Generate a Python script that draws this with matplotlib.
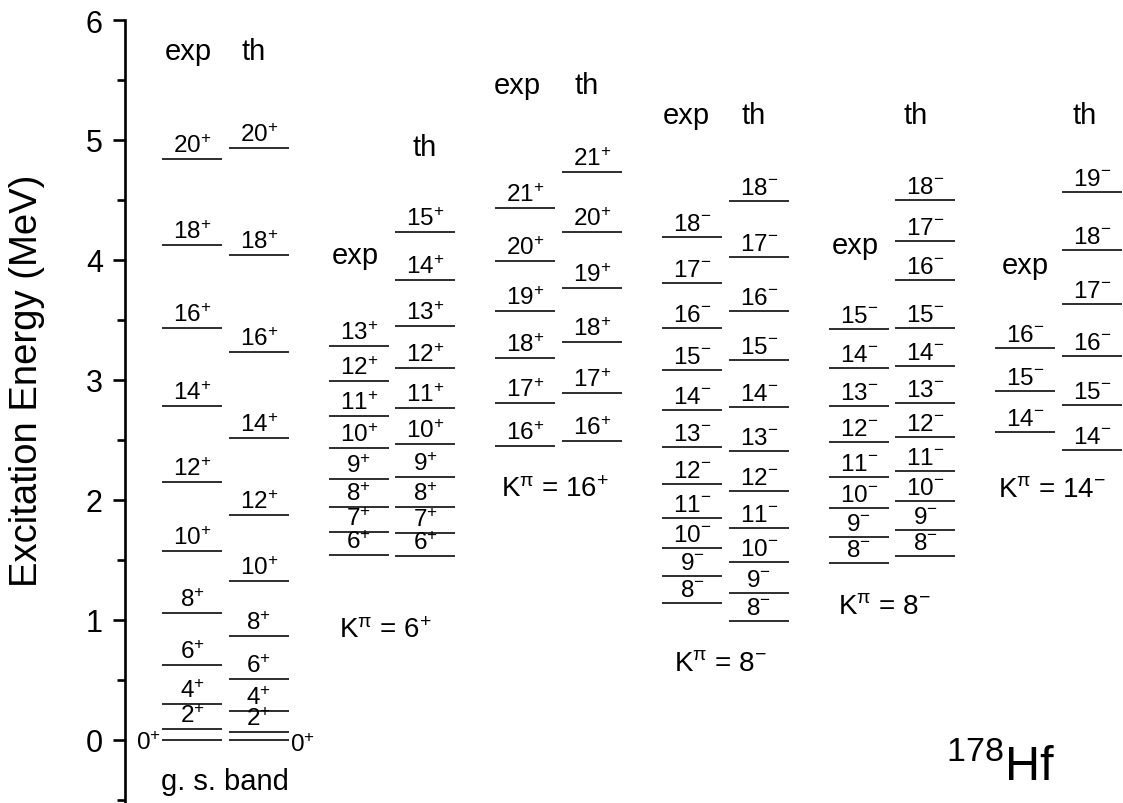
import matplotlib
matplotlib.use('Agg')
import matplotlib.pyplot as plt
from matplotlib.ticker import MultipleLocator

plt.rcParams['font.family'] = ['Liberation Sans', 'DejaVu Sans']
plt.rcParams['mathtext.fontset'] = 'custom'
plt.rcParams['mathtext.rm'] = 'Liberation Sans'
plt.rcParams['mathtext.it'] = 'Liberation Sans:italic'
plt.rcParams['mathtext.bf'] = 'Liberation Sans:bold'
plt.rcParams['mathtext.default'] = 'regular'

# ---------------- data (MeV) ----------------
gs_spins = [0, 2, 4, 6, 8, 10, 12, 14, 16, 18, 20]
gs_exp = [0.0, 0.093, 0.300, 0.628, 1.056, 1.572, 2.147, 2.780, 3.430, 4.125, 4.840]
gs_th = [0.0, 0.070, 0.240, 0.506, 0.870, 1.325, 1.875, 2.514, 3.236, 4.044, 4.930]

k6_exp_spins = [6, 7, 8, 9, 10, 11, 12, 13]
k6_exp = [1.544, 1.731, 1.944, 2.175, 2.436, 2.697, 2.989, 3.286]
k6_th_spins = [6, 7, 8, 9, 10, 11, 12, 13, 14, 15]
k6_th = [1.536, 1.725, 1.944, 2.194, 2.467, 2.770, 3.100, 3.453, 3.830, 4.233]

k16_spins = [16, 17, 18, 19, 20, 21]
k16_exp = [2.447, 2.806, 3.180, 3.578, 3.994, 4.433]
k16_th = [2.494, 2.890, 3.319, 3.764, 4.236, 4.736]

k8a_spins = [8, 9, 10, 11, 12, 13, 14, 15, 16, 17, 18]
k8a_exp = [1.142, 1.364, 1.600, 1.853, 2.133, 2.444, 2.750, 3.083, 3.433, 3.806, 4.189]
k8a_th = [0.994, 1.225, 1.481, 1.767, 2.078, 2.411, 2.778, 3.167, 3.578, 4.022, 4.489]

k8b_exp_spins = [8, 9, 10, 11, 12, 13, 14, 15]
k8b_exp = [1.472, 1.694, 1.933, 2.194, 2.481, 2.781, 3.097, 3.425]
k8b_th_spins = [8, 9, 10, 11, 12, 13, 14, 15, 16, 17, 18]
k8b_th = [1.533, 1.750, 1.989, 2.242, 2.522, 2.808, 3.119, 3.433, 3.836, 4.161, 4.500]

k14_exp_spins = [14, 15, 16]
k14_exp = [2.569, 2.906, 3.264]
k14_th_spins = [14, 15, 16, 17, 18, 19]
k14_th = [2.417, 2.794, 3.197, 3.631, 4.086, 4.569]

band_parity = ['+', '+', '+', '-', '-', '-']
band_names = ['g. s. band', r'K$^{\pi}$ = 6$^{+}$', r'K$^{\pi}$ = 16$^{+}$',
              r'K$^{\pi}$ = 8$^{-}$', r'K$^{\pi}$ = 8$^{-}$', r'K$^{\pi}$ = 14$^{-}$']

bands = [
    (gs_spins, gs_exp, gs_spins, gs_th),
    (k6_exp_spins, k6_exp, k6_th_spins, k6_th),
    (k16_spins, k16_exp, k16_spins, k16_th),
    (k8a_spins, k8a_exp, k8a_spins, k8a_th),
    (k8b_exp_spins, k8b_exp, k8b_th_spins, k8b_th),
    (k14_exp_spins, k14_exp, k14_th_spins, k14_th),
]

# ---------------- layout ----------------
EXP_X0, EXP_X1 = 0.0, 0.36
TH_X0, TH_X1 = 0.40, 0.76
LW = 1.15
LFS = 17.5

# header text positions (x in band units, y in MeV)
exp_head = [(0.156, 5.74), (1.158, 4.04), (2.13, 5.46), (3.144, 5.21), (4.158, 4.125), (5.178, 3.96)]
th_head = [(0.552, 5.74), (1.578, 4.94), (2.55, 5.46), (3.552, 5.21), (4.524, 5.21), (5.538, 5.21)]
name_pos = [(0.378, -0.34), (1.338, 0.92), (2.358, 2.09), (3.348, 0.64), (4.332, 1.12), (5.34, 2.09)]

fig = plt.figure(figsize=(11.23, 8.04), dpi=100)
ax = fig.add_axes([125 / 1123, 0.0, 1 - 125 / 1123, 1 - 21 / 804])
ax.set_xlim(-0.222, 5.766)
ax.set_ylim(-0.525, 6.0)

for s in ['top', 'right', 'bottom']:
    ax.spines[s].set_visible(False)
ax.spines['left'].set_linewidth(1.9)
ax.set_xticks([])
ax.yaxis.set_major_locator(MultipleLocator(1))
ax.yaxis.set_minor_locator(MultipleLocator(0.5))
ax.tick_params(axis='y', which='major', direction='out', length=9, width=1.9,
               labelsize=22, pad=7)
ax.tick_params(axis='y', which='minor', direction='out', length=6, width=1.9)
ax.set_yticks([0, 1, 2, 3, 4, 5, 6])
ax.set_ylabel('Excitation Energy (MeV)', fontsize=27.5)
ax.yaxis.set_label_coords(-0.08, 0.54)


def level_label(x, y, spin, par, **kw):
    ax.annotate(f'${spin}^{{{par}}}$', (x, y), xytext=kw.pop('off', (0, 1.5)),
                textcoords='offset points', fontsize=LFS,
                ha=kw.pop('ha', 'center'), va=kw.pop('va', 'bottom'))


for i, (es, ev, ts, tv) in enumerate(bands):
    par = band_parity[i]
    ax.hlines(ev, i + EXP_X0, i + EXP_X1, colors='black', linewidth=LW)
    ax.hlines(tv, i + TH_X0, i + TH_X1, colors='black', linewidth=LW)
    for s, e in zip(es, ev):
        if s == 0:
            level_label(i + EXP_X0, e, s, par, ha='right', va='center', off=(-1, -2))
        else:
            level_label(i + (EXP_X0 + EXP_X1) / 2, e, s, par)
    for s, e in zip(ts, tv):
        if s == 0:
            level_label(i + TH_X1, e, s, par, ha='left', va='center', off=(1, -3))
        else:
            level_label(i + (TH_X0 + TH_X1) / 2, e, s, par)
    ax.text(*exp_head[i], 'exp', fontsize=21, ha='center', va='center')
    ax.text(*th_head[i], 'th', fontsize=21, ha='center', va='center')
    ax.text(*name_pos[i], band_names[i], fontsize=20 if i else 21, ha='center', va='center')

ax.text(5.03, -0.22, r'$^{178}$Hf', fontsize=35, ha='center', va='center')

fig.savefig('out.png', dpi=100)
